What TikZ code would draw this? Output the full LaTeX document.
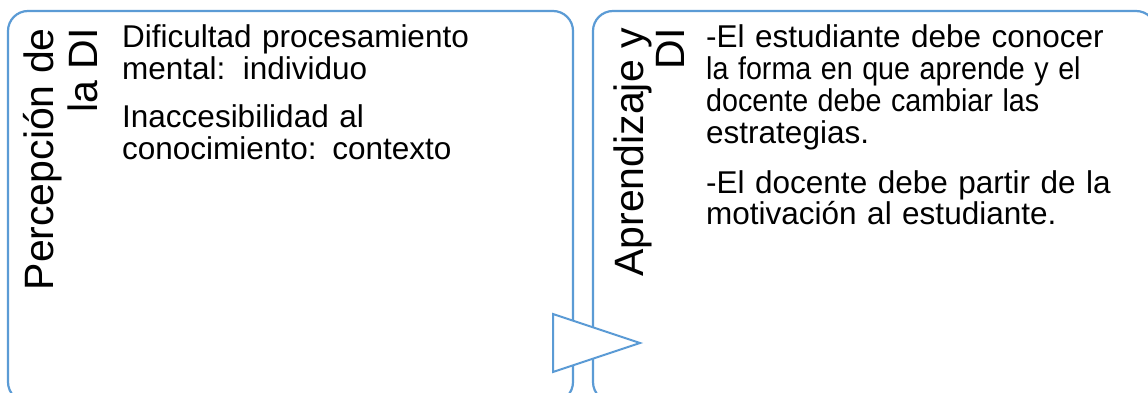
\documentclass[tikz,border=0pt]{standalone}
\usepackage{fontspec}
\setmainfont{Liberation Sans}
\definecolor{boxblue}{HTML}{5B9BD5}
\newcommand{\narrowline}[1]{\scalebox{0.91}[1]{#1}}
\tikzset{
  panel/.style={draw=boxblue, line width=2.2pt, rounded corners=20pt},
  rotlabel/.style={rotate=90, anchor=base east, inner sep=0pt, font=\fontsize{41}{44}\selectfont},
  bodytext/.style={anchor=base west, inner sep=0pt, text width=440pt, align=left, font=\fontsize{31.5}{31.8}\selectfont},
  arrowtri/.style={draw=boxblue, fill=white, line width=2pt, line join=miter}
}
\begin{document}
\begin{tikzpicture}[x=1pt, y=-1pt]
\useasboundingbox (0,0) rectangle (1148,393);
\fill[white] (0,0) rectangle (1148,393);
% panels
\draw[panel] (8,11) rectangle (573,402);
\draw[panel] (593,11) rectangle (1156,402);
% left panel labels
\node[rotlabel] (lt1) at (53,28) {Percepción de};
\node[rotlabel] (lt2) at (97,28) {la DI};
\node[bodytext] (lb1) at (122,48) {Dificultad procesamiento\\mental:\hspace{0.55em}individuo};
\node[bodytext] (lb2) at (122,128) {Inaccesibilidad al\\conocimiento: contexto};
% right panel labels
\node[rotlabel] (rt1) at (643,28) {Aprendizaje y};
\node[rotlabel] (rt2) at (684,28) {DI};
\node[bodytext] (rb1) at (706,48) {-El estudiante debe conocer\\\narrowline{la forma en que aprende y el}\\\narrowline{docente debe cambiar las}\\estrategias.};
\node[bodytext] (rb2) at (706,193) {-El docente debe partir de la\\motivación al estudiante.};
% arrow triangle
\draw[arrowtri] (553,314) -- (640,343) -- (553,372) -- cycle;
\end{tikzpicture}
\end{document}
